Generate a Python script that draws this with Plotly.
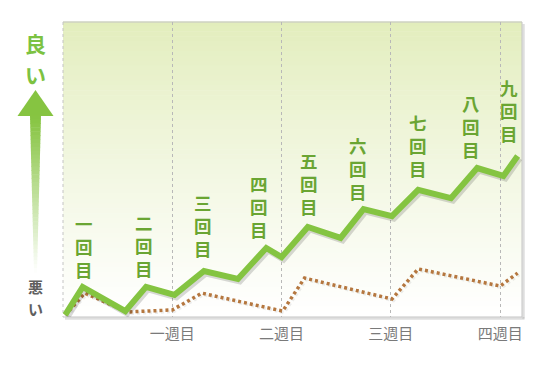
import plotly.graph_objects as go

# ---------------- data ----------------
week_vals = [1, 2, 3, 4]
week_labels = ["一週目", "二週目", "三週目", "四週目"]

green_x = [0.02, 0.18, 0.57, 0.76, 1.02, 1.29, 1.60, 1.86, 2.00,
           2.24, 2.54, 2.75, 3.01, 3.25, 3.55, 3.79, 4.03, 4.16]
green_y = [0.7, 10.2, 2.0, 10.2, 7.5, 15.6, 12.9, 23.4, 20.3,
           30.5, 26.8, 36.6, 34.2, 43.1, 40.3, 50.5, 47.8, 54.6]

dot_x = [0.02, 0.20, 0.59, 1.00, 1.27, 2.01, 2.21, 3.01, 3.25, 4.00, 4.16]
dot_y = [0.7, 8.1, 1.7, 2.4, 8.1, 2.0, 13.2, 6.1, 16.3, 10.5, 14.9]

session_labels = ["一回目", "二回目", "三回目", "四回目", "五回目",
                  "六回目", "七回目", "八回目", "九回目"]
peak_idx = [1, 3, 5, 7, 9, 11, 13, 15, 17]

# ---------------- style / layout ----------------
W, H = 558, 371
L, R, T, B = 63, 522, 22, 317
X0, X1, Y0, Y1 = 0, 4.2, 0, 100
PW, PH = R - L, B - T
dxp = (X1 - X0) / PW
dyp = (Y1 - Y0) / PH

FONT = "Noto Sans CJK JP"
GREEN = "#84c441"
LABEL_GREEN = "#6aa533"
BROWN = "#b5773f"

label_dx = [1, -2, -1, -7, 1, -6, 0, -6, -9]
label_gap = [9, 10, 14, 10, 12, 9, 13, 10, 14]
LABEL_SIZE = 17.5
CHAR_STEP = LABEL_SIZE * 1.3


def xp(px):
    return (px - L) / PW


def yp(py):
    return (B - py) / PH


fig = go.Figure()

DOT = "3px,3px"
fig.add_trace(go.Scatter(
    x=[v + 1.5 * dxp for v in dot_x], y=[v - 1.5 * dyp for v in dot_y],
    mode="lines", line=dict(color="rgba(0,0,0,0.07)", width=3.5, dash=DOT),
    hoverinfo="skip", showlegend=False))
fig.add_trace(go.Scatter(
    x=dot_x, y=dot_y, mode="lines",
    line=dict(color=BROWN, width=3.5, dash=DOT),
    hoverinfo="skip", showlegend=False))
fig.add_trace(go.Scatter(
    x=[v + 2 * dxp for v in green_x], y=[v - 2.5 * dyp for v in green_y],
    mode="lines", line=dict(color="rgba(0,0,0,0.15)", width=6),
    hoverinfo="skip", showlegend=False))
fig.add_trace(go.Scatter(
    x=green_x, y=green_y, mode="lines",
    line=dict(color=GREEN, width=6),
    hoverinfo="skip", showlegend=False))

shapes = []
N = 60
top = (226, 237, 188)
for i in range(N):
    t = i / (N - 1)
    f = min(1.0, t ** 0.85)
    c = tuple(round(top[k] + (255 - top[k]) * f) for k in range(3))
    shapes.append(dict(type="rect", xref="x domain", yref="y domain",
                       x0=0, x1=1, y0=1 - (i + 1) / N, y1=1 - i / N + 0.002,
                       fillcolor="rgb(%d,%d,%d)" % c, line=dict(width=0),
                       layer="below"))
shapes.append(dict(type="line", xref="paper", yref="paper",
                   x0=xp(R + 1.5), x1=xp(R + 1.5), y0=yp(T + 2), y1=yp(B + 1.5),
                   line=dict(color="rgba(0,0,0,0.13)", width=2.5), layer="below"))
shapes.append(dict(type="line", xref="paper", yref="paper",
                   x0=xp(L + 2), x1=xp(R + 2.5), y0=yp(B + 1.5), y1=yp(B + 1.5),
                   line=dict(color="rgba(0,0,0,0.13)", width=2.5), layer="below"))
for (a, b, c_, d, dash) in [(L, T, R, T, "solid"), (R, T, R, B, "solid"),
                            (L, B, R, B, "solid"), (L, T, L, B, "dot")]:
    shapes.append(dict(type="line", xref="paper", yref="paper",
                       x0=xp(a), y0=yp(b), x1=xp(c_), y1=yp(d),
                       line=dict(color="#c4c4c4", width=1, dash=dash), layer="below"))

AX = 35.5
shapes.append(dict(type="path", xref="paper", yref="paper",
                   path="M %f,%f L %f,%f L %f,%f Z" % (xp(AX - 18), yp(116), xp(AX), yp(90), xp(AX + 18), yp(116)),
                   fillcolor="#86c441", line=dict(width=0), layer="above"))
NS = 40
y_a, y_b = 115.5, 272
g = (134, 196, 65)
for i in range(NS):
    ta = i / NS
    tb = (i + 1) / NS
    ya = y_a + (y_b - y_a) * ta
    yb = y_a + (y_b - y_a) * tb + 0.6
    wa = 5.5 - 4.0 * ta
    wb = 5.5 - 4.0 * tb
    f = min(1.0, ((ta + tb) / 2) ** 1.1)
    c = tuple(round(g[k] + (255 - g[k]) * f) for k in range(3))
    shapes.append(dict(type="path", xref="paper", yref="paper",
                       path="M %f,%f L %f,%f L %f,%f L %f,%f Z" % (
                           xp(AX - wa), yp(ya), xp(AX + wa), yp(ya),
                           xp(AX + wb), yp(yb), xp(AX - wb), yp(yb)),
                       fillcolor="rgb(%d,%d,%d)" % c, line=dict(width=0), layer="above"))

annotations = []
for k, (lab, pi) in enumerate(zip(session_labels, peak_idx)):
    annotations.append(dict(
        x=green_x[pi], y=green_y[pi], xref="x", yref="y",
        text="<br>".join(list(lab)), showarrow=False,
        xanchor="center", yanchor="middle", borderpad=0,
        xshift=label_dx[k],
        yshift=label_gap[k] + 9 + CHAR_STEP,
        font=dict(family=FONT, size=LABEL_SIZE, color=LABEL_GREEN, weight=700)))

for ch, cy in zip("良い", [43, 74]):
    annotations.append(dict(x=xp(AX), y=yp(cy), xref="paper", yref="paper",
                            text=ch, showarrow=False, xanchor="center", yanchor="middle",
                            borderpad=0,
                            font=dict(family=FONT, size=21, color="#7cc242", weight=700)))
for ch, cy in zip("悪い", [286, 308]):
    annotations.append(dict(x=xp(AX), y=yp(cy), xref="paper", yref="paper",
                            text=ch, showarrow=False, xanchor="center", yanchor="middle",
                            borderpad=0,
                            font=dict(family=FONT, size=15, color="#5f5f5f", weight=700)))

fig.update_layout(
    width=W, height=H,
    margin=dict(l=L, r=W - R, t=T, b=H - B, pad=0),
    paper_bgcolor="white", plot_bgcolor="rgba(0,0,0,0)",
    shapes=shapes, annotations=annotations, showlegend=False,
    xaxis=dict(range=[X0, X1], tickvals=week_vals, ticktext=week_labels,
               showgrid=True, gridcolor="#b8b8b8", griddash="dot", gridwidth=1,
               zeroline=False, showline=False, ticks="", ticklabelstandoff=6,
               tickfont=dict(family=FONT, size=15, color="#7a7a7a"),
               fixedrange=True),
    yaxis=dict(range=[Y0, Y1], showgrid=False, zeroline=False, showline=False,
               showticklabels=False, ticks="", fixedrange=True),
)

fig.write_html("out.html")
